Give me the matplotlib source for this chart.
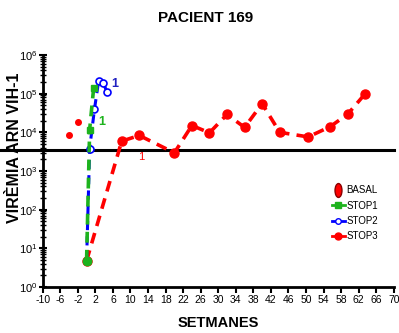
import matplotlib
matplotlib.use("Agg")
import matplotlib.pyplot as plt
import numpy as np
from matplotlib.lines import Line2D
from matplotlib.path import Path
from matplotlib.ticker import LogLocator, LogFormatterMathtext, FixedLocator

plt.rcParams["font.family"] = ["Liberation Sans", "DejaVu Sans"]
plt.rcParams["mathtext.fontset"] = "custom"
plt.rcParams["mathtext.rm"] = "Liberation Sans"

# viral load (copies/mL) by week
basal_weeks = [-4, -2]
basal_load = [8300, 18600]

stop1_weeks = [0, 0.7, 1.6]
stop1_load = [4.8, 11800, 136000]

stop2_weeks = [0, 0.7, 1.8, 2.75, 3.8, 4.75]
stop2_load = [4.8, 3800, 40000, 214000, 183000, 107000]

stop3_weeks = [0, 8, 12, 20, 24, 28, 32, 36, 40, 44, 50.5, 55.5, 59.5, 63.5]
stop3_load = [4.8, 5900, 8300, 2950, 15000, 9700, 29000, 13400, 55000,
              10000, 7600, 14000, 29500, 100000]

threshold = 3500
x_ticks = list(range(-10, 71, 4))

fig = plt.figure(figsize=(3.99, 3.33), dpi=100)
ax = fig.add_axes([0.107, 0.138, 0.88, 0.697])

ax.plot(basal_weeks, basal_load, "o", color="red", ms=4, zorder=3)
ax.plot(stop3_weeks, stop3_load, "--", color="red", lw=2.6, dashes=(3, 2),
        marker="o", ms=6.5, zorder=3)
ax.plot(stop2_weeks, stop2_load, "--", color="blue", lw=2.2, dashes=(3, 2),
        marker="o", ms=5, mfc="white", mec="blue", mew=1.2, zorder=4)
ax.plot(stop1_weeks, stop1_load, "--", color="#1db31d", lw=2.6, dashes=(3, 2),
        marker="s", ms=5, zorder=5)
ax.plot([0], [4.8], "o", color="#1db31d", ms=6, zorder=6)

ax.axhline(threshold, xmin=-0.125, xmax=1.0, color="black", lw=2.2,
           clip_on=False, zorder=2)

ax.text(3.5, 10**4.27, "1", color="#1db31d", fontsize=9, fontweight="bold",
        ha="center", va="center")
ax.text(6.4, 10**5.24, "1", color="#2020c0", fontsize=9, fontweight="bold",
        ha="center", va="center")
ax.text(12.5, 10**3.37, "1", color="red", fontsize=8,
        ha="center", va="center")

ax.set_yscale("log")
ax.set_ylim(1, 1e6)
ax.set_xlim(-10, 70)
ax.xaxis.set_major_locator(FixedLocator(x_ticks))
ax.set_xticklabels([str(t) for t in x_ticks])
ax.yaxis.set_major_locator(LogLocator(base=10, numticks=10))
ax.yaxis.set_minor_locator(LogLocator(base=10, subs=np.arange(2, 10), numticks=10))
ax.yaxis.set_major_formatter(LogFormatterMathtext())

for side in ["top", "right"]:
    ax.spines[side].set_visible(False)
ax.spines["left"].set_linewidth(2)
ax.spines["bottom"].set_linewidth(2)
ax.tick_params(axis="x", length=4, width=1.5, labelsize=7.5, pad=2)
ax.tick_params(axis="y", which="major", direction="inout", length=6, width=1.5,
               labelsize=8, pad=1)
ax.tick_params(axis="y", which="minor", direction="inout", length=4, width=1)

ax.set_xlabel("SETMANES", fontsize=10.5, fontweight="bold", labelpad=8)
ax.set_ylabel("VIRÈMIA ARN VIH-1", fontsize=11.5, fontweight="bold")
ax.yaxis.set_label_coords(-0.06, 0.60)
fig.text(0.515, 0.945, "PACIENT 169", fontsize=11, fontweight="bold",
         ha="center", va="center")

# tall oval marker for the basal legend entry
circle = Path.unit_circle()
oval = Path(circle.vertices * np.array([0.5, 1.0]), circle.codes)

handles = [
    Line2D([], [], ls="none", marker=oval, ms=10, mfc="red", mec="#8b0000"),
    Line2D([], [], color="#1db31d", lw=2, marker="s", ms=4),
    Line2D([], [], color="blue", lw=2, marker="o", ms=4, mfc="white", mec="blue"),
    Line2D([], [], color="red", lw=2, marker="o", ms=5),
]
labels = ["BASAL", "STOP1", "STOP2", "STOP3"]
fig.legend(handles, labels, loc="upper left", bbox_to_anchor=(0.81, 0.47),
           frameon=False, handlelength=1.3, handletextpad=0.2, labelspacing=0.55,
           prop={"family": ["Liberation Sans Narrow", "Liberation Sans"], "size": 7})

fig.savefig("out.png", dpi=100)
